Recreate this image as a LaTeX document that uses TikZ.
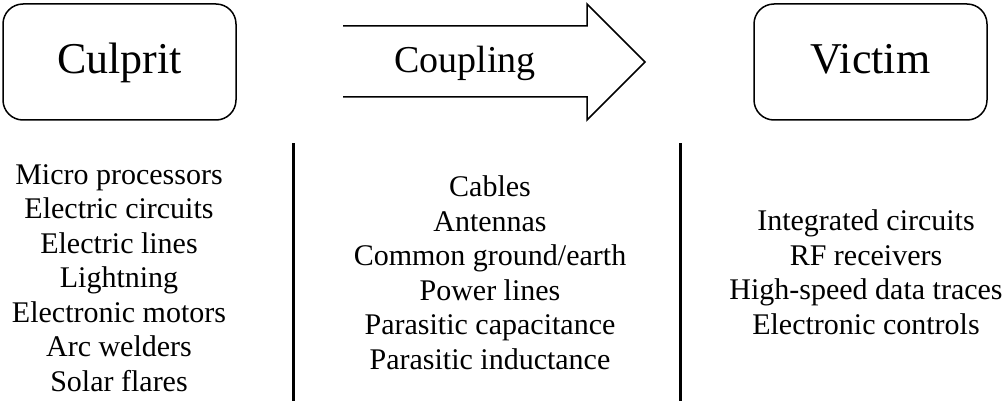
\documentclass[tikz,border=0pt]{standalone}
\usepackage{fontspec}
\setmainfont{Liberation Serif}
\begin{document}
\begin{tikzpicture}[x=1pt,y=-1pt,
  box/.style={draw,line width=1.5pt,rounded corners=20pt,minimum width=233pt,minimum height=116pt,inner sep=0pt},
  big/.style={font=\fontsize{44}{50}\selectfont,inner sep=0pt,anchor=base},
  listtext/.style={align=center,inner sep=0pt,font=\fontsize{30}{34.5}\selectfont},
  sep/.style={line width=3pt}]
\useasboundingbox (0,0) rectangle (1006,401);
\node[box] (culprit) at (119.5,62) {};
\node[box] (victim) at (870.5,62) {};
\node[big] (culprittext) at (119.5,74) {Culprit};
\node[big] (victimtext) at (870.5,74) {Victim};
\coordinate (a1) at (343,26);
\coordinate (a2) at (587,26);
\coordinate (a3) at (587,4);
\coordinate (a4) at (645,62);
\coordinate (a5) at (587,120);
\coordinate (a6) at (587,97);
\coordinate (a7) at (343,97);
\draw[line width=1.5pt,line join=miter] (a1) -- (a2) -- (a3) -- (a4) -- (a5) -- (a6) -- (a7);
\node[font=\fontsize{38}{44}\selectfont,inner sep=0pt,anchor=base] (coupling) at (465,73) {Coupling};
\node[listtext] (culpritlist) at (119,278) {Micro processors\\Electric circuits\\Electric lines\\Lightning\\Electronic motors\\Arc welders\\Solar flares};
\node[listtext] (couplinglist) at (490,272.5) {Cables\\Antennas\\Common ground/earth\\Power lines\\Parasitic capacitance\\Parasitic inductance};
\node[listtext] (victimlist) at (866,272) {Integrated circuits\\RF receivers\\High-speed data traces\\Electronic controls};
\coordinate (l1) at (293,143);
\coordinate (l2) at (293,401);
\coordinate (r1) at (680,143);
\coordinate (r2) at (680,401);
\draw[sep] (l1) -- (l2);
\draw[sep] (r1) -- (r2);
\end{tikzpicture}
\end{document}
